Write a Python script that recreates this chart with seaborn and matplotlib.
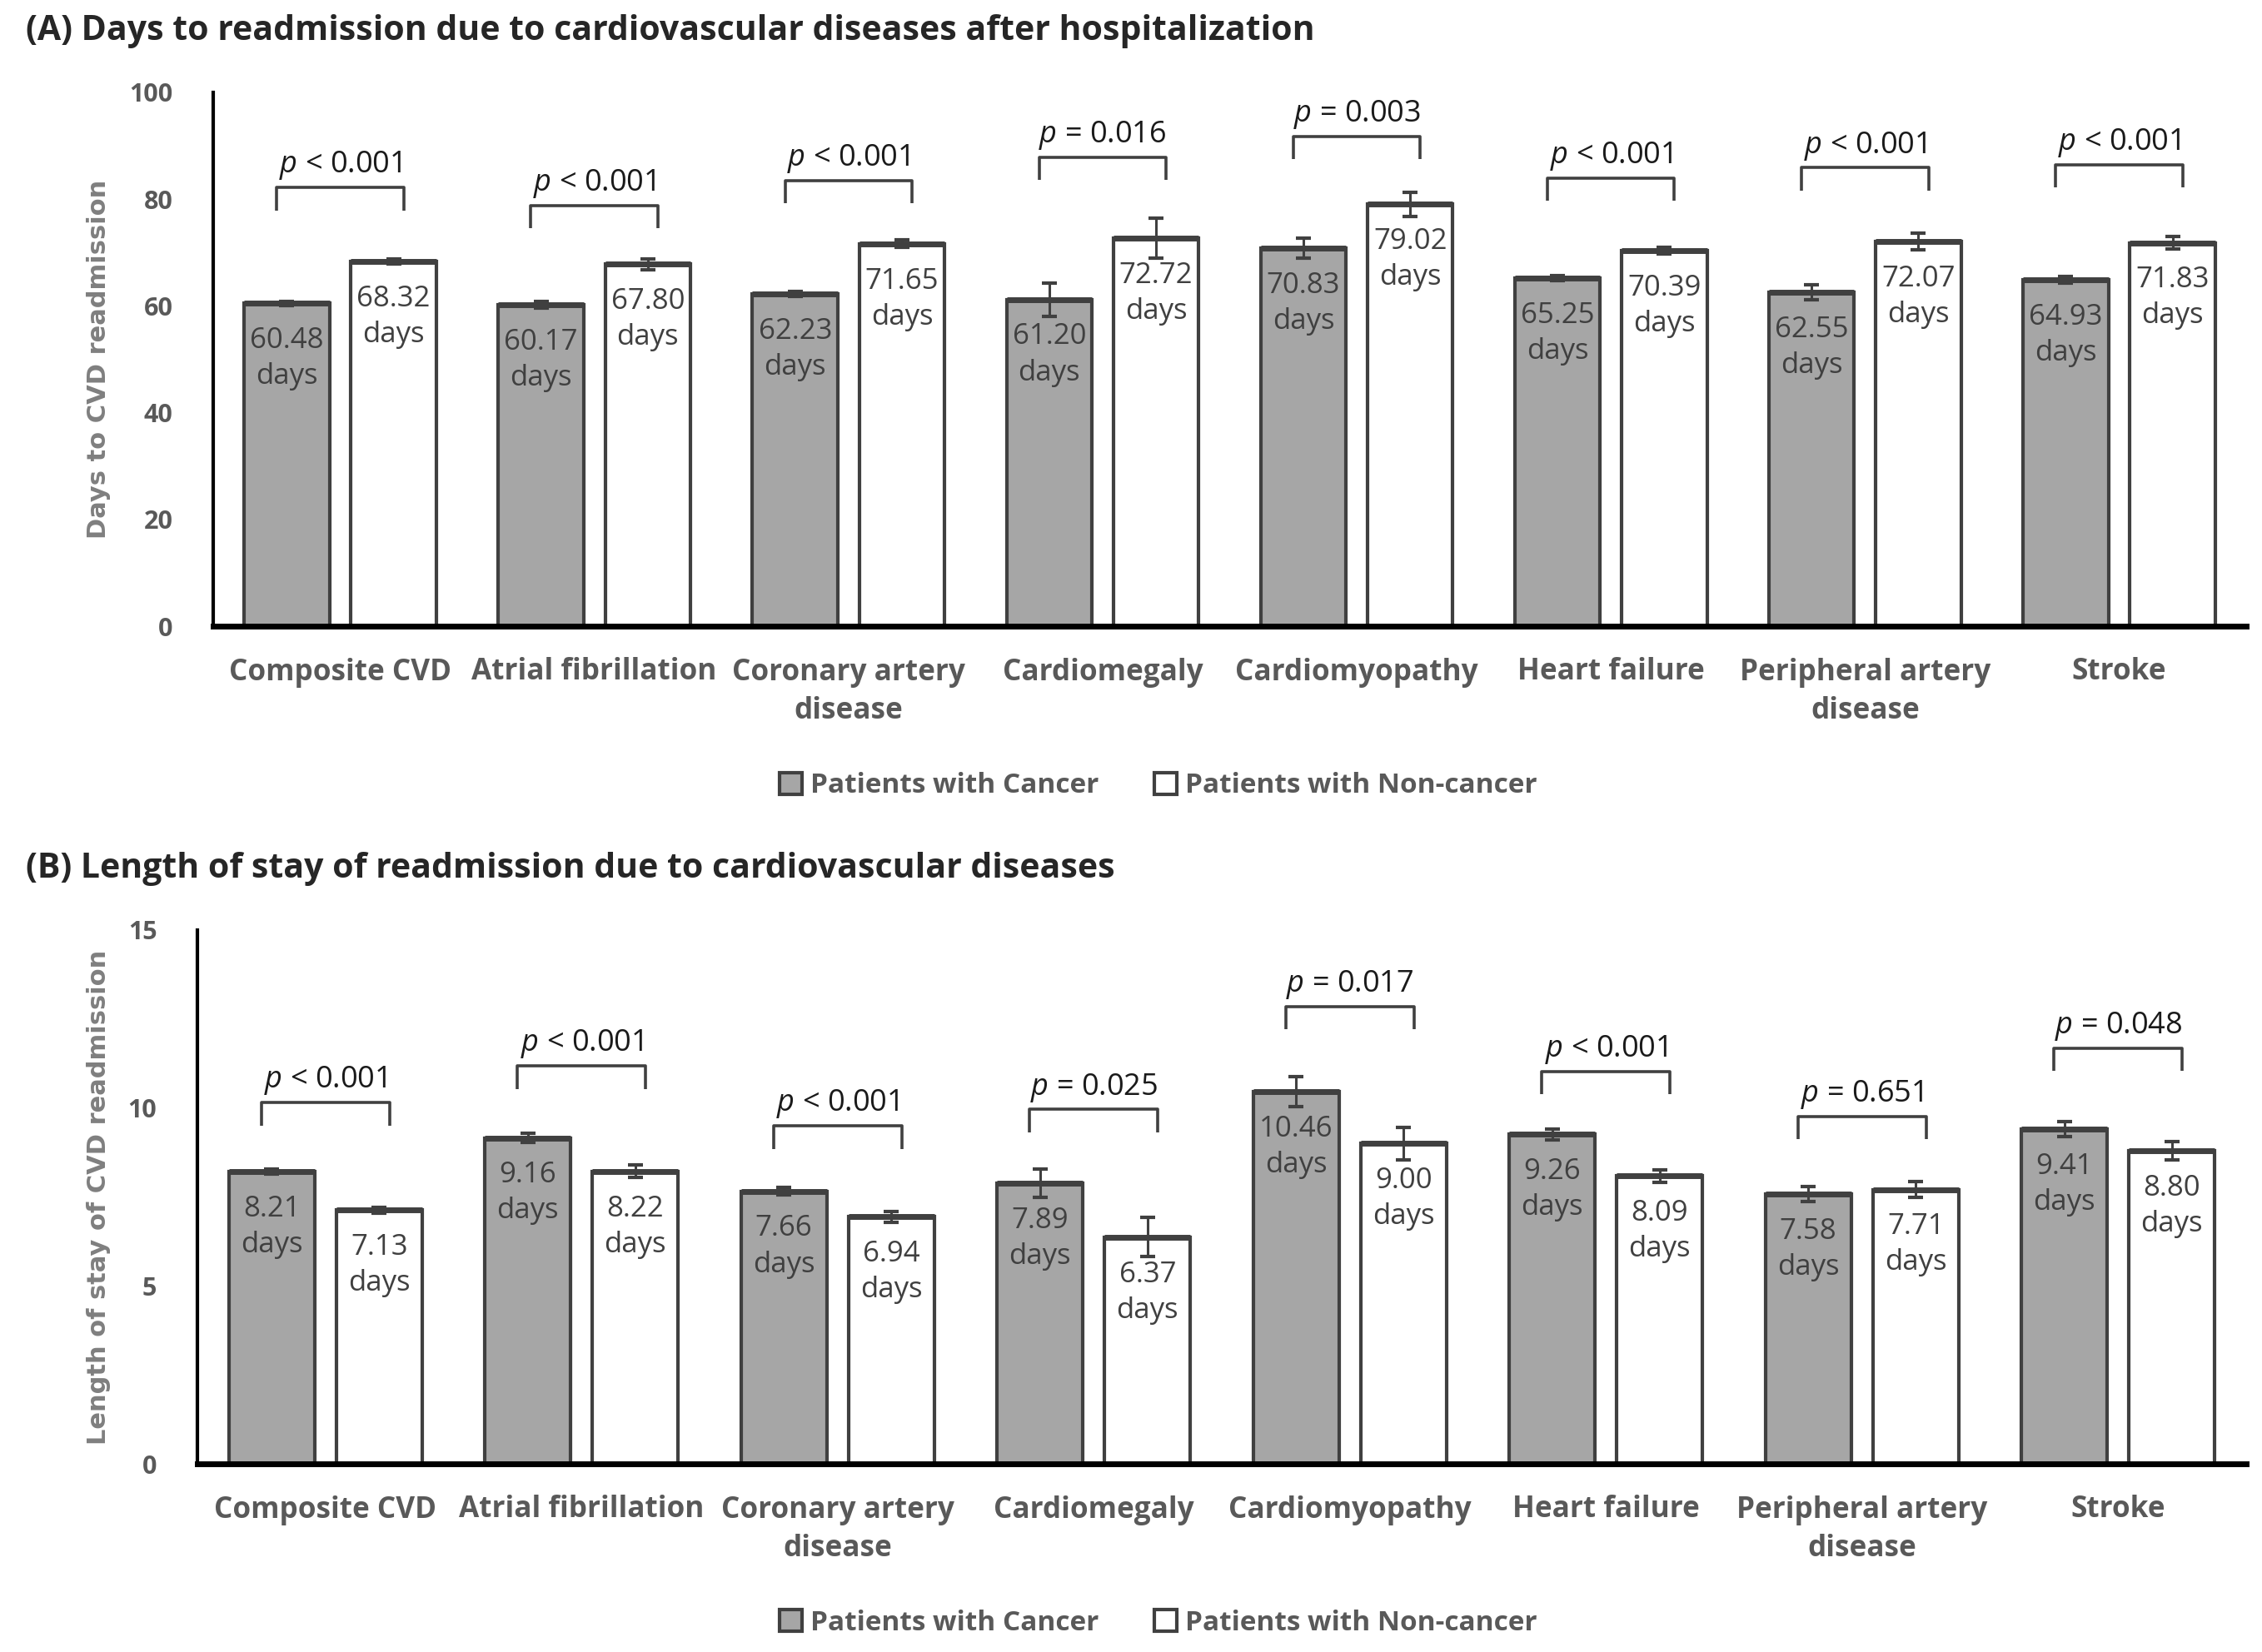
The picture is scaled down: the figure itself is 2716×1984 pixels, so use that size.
import pandas as pd
import seaborn as sns
import matplotlib.pyplot as plt
from matplotlib.patches import Patch


# Data
diseases = ['Composite CVD', 'Atrial fibrillation', 'Coronary artery\ndisease', 'Cardiomegaly',
            'Cardiomyopathy', 'Heart failure', 'Peripheral artery\ndisease', 'Stroke']
groups = ['Patients with Cancer', 'Patients with Non-cancer']

days_cancer = [60.48, 60.17, 62.23, 61.20, 70.83, 65.25, 62.55, 64.93]
days_noncancer = [68.32, 67.80, 71.65, 72.72, 79.02, 70.39, 72.07, 71.83]
days_err_cancer = [0.4, 0.6, 0.5, 3.1, 1.8, 0.5, 1.4, 0.6]
days_err_noncancer = [0.5, 1.0, 0.7, 3.7, 2.3, 0.6, 1.5, 1.2]
days_p = ['< 0.001', '< 0.001', '< 0.001', '= 0.016', '= 0.003', '< 0.001', '< 0.001', '< 0.001']
days_bracket = [82.2, 78.8, 83.5, 87.9, 91.8, 84.0, 85.9, 86.5]

los_cancer = [8.21, 9.16, 7.66, 7.89, 10.46, 9.26, 7.58, 9.41]
los_noncancer = [7.13, 8.22, 6.94, 6.37, 9.00, 8.09, 7.71, 8.80]
los_err_cancer = [0.07, 0.12, 0.10, 0.40, 0.42, 0.15, 0.22, 0.21]
los_err_noncancer = [0.08, 0.17, 0.15, 0.55, 0.45, 0.17, 0.23, 0.25]
los_p = ['< 0.001', '< 0.001', '< 0.001', '= 0.025', '= 0.017', '< 0.001', '= 0.651', '= 0.048']
los_bracket = [10.15, 11.18, 9.50, 9.96, 12.85, 11.03, 9.76, 11.68]

DARK = '#404040'
TICK_GREY = '#595959'
palette = {groups[0]: '#a6a6a6', groups[1]: '#ffffff'}

sns.set_style('white')
plt.rcParams['font.family'] = ['Open Sans', 'DejaVu Sans']
plt.rcParams['mathtext.fontset'] = 'custom'
plt.rcParams['mathtext.it'] = 'Open Sans:italic'
plt.rcParams['mathtext.rm'] = 'Open Sans'


def draw_panel(ax, cancer, noncancer, err_c, err_n, pvals, brackets, ymax, yticks, ylabel, label_x):
    df = pd.DataFrame({
        'disease': diseases * 2,
        'value': cancer + noncancer,
        'group': [groups[0]] * len(diseases) + [groups[1]] * len(diseases),
    })
    sns.barplot(data=df, x='disease', y='value', hue='group', order=diseases, hue_order=groups,
                palette=palette, saturation=1, width=0.84, gap=0.2, edgecolor=DARK, linewidth=3,
                errorbar=None, legend=False, ax=ax)

    bars = sorted(ax.patches, key=lambda p: p.get_x())
    for bar_set, vals, errs in [(bars[0::2], cancer, err_c), (bars[1::2], noncancer, err_n)]:
        xs = [b.get_x() + b.get_width() / 2 for b in bar_set]
        for b, v, x in zip(bar_set, vals, xs):
            ax.hlines(v, b.get_x(), b.get_x() + b.get_width(), color=DARK, lw=5, zorder=3)
            ax.annotate(f'{v:.2f}\ndays', xy=(x, v), xytext=(0, -20), textcoords='offset points',
                        ha='center', va='top', fontsize=25, color=DARK, linespacing=1.35, zorder=5)
        ax.errorbar(xs, vals, yerr=errs, fmt='none', ecolor=DARK, elinewidth=2.2,
                    capsize=6.5, capthick=3, zorder=4)

    # significance brackets
    drop = 0.043 * ymax
    for i, (p, top) in enumerate(zip(pvals, brackets)):
        ax.plot([i - 0.25, i - 0.25, i + 0.25, i + 0.25], [top - drop, top, top, top - drop],
                color=DARK, lw=2.6, solid_capstyle='butt', zorder=4)
        ax.text(i, top + 0.041 * ymax, f'$p$ {p}', ha='center', va='center', fontsize=26, color='#1a1a1a')

    ax.set_xlim(-0.5, 7.5)
    ax.set_ylim(0, ymax)
    ax.set_yticks(yticks)
    ax.set_xlabel('')
    ax.set_ylabel(ylabel, family='DejaVu Sans', fontweight='bold', fontsize=22, color='#7f7f7f')
    ax.yaxis.set_label_coords(label_x, 0.5)
    sns.despine(ax=ax)
    ax.spines['left'].set_linewidth(3)
    ax.spines['left'].set_color('black')
    ax.spines['bottom'].set_linewidth(5)
    ax.spines['bottom'].set_color('black')
    ax.tick_params(axis='x', length=0, pad=27, labelsize=25.3, labelcolor=TICK_GREY)
    ax.tick_params(axis='y', length=0, pad=35, labelsize=22, labelcolor=TICK_GREY)
    for lbl in ax.get_xticklabels() + ax.get_yticklabels():
        lbl.set_fontweight('bold')
    for lbl in ax.get_xticklabels():
        lbl.set_linespacing(1.4)


def add_legend(fig, y):
    handles = [Patch(facecolor=palette[g], edgecolor=DARK, lw=3) for g in groups]
    fig.legend(handles, groups, loc='center', bbox_to_anchor=(1391 / 2716, y), ncol=2, frameon=False,
               prop={'family': 'Open Sans', 'weight': 'bold', 'size': 24}, labelcolor=TICK_GREY,
               handlelength=0.8, handleheight=0.85, handletextpad=0.3, columnspacing=2.0)


fig = plt.figure(figsize=(27.16, 19.84), dpi=100)
ax_a = fig.add_axes([256 / 2716, 1 - 752 / 1984, (2697 - 256) / 2716, 641 / 1984])
ax_b = fig.add_axes([237 / 2716, 1 - 1758 / 1984, (2697 - 237) / 2716, 641 / 1984])

draw_panel(ax_a, days_cancer, days_noncancer, days_err_cancer, days_err_noncancer, days_p, days_bracket,
           100, [0, 20, 40, 60, 80, 100], 'Days to CVD readmission', -0.0504)
draw_panel(ax_b, los_cancer, los_noncancer, los_err_cancer, los_err_noncancer, los_p, los_bracket,
           15, [0, 5, 10, 15], 'Length of stay of CVD readmission', -0.0423)

fig.text(31 / 2716, 1 - 38 / 1984,
         '(A) Days to readmission due to cardiovascular diseases after hospitalization',
         fontsize=29.5, fontweight='bold', va='center', ha='left')
fig.text(31 / 2716, 1 - 1044 / 1984,
         '(B) Length of stay of readmission due to cardiovascular diseases',
         fontsize=29.5, fontweight='bold', va='center', ha='left')

add_legend(fig, 1 - 944 / 1984)
add_legend(fig, 1 - 1949 / 1984)

fig.savefig('out.png', dpi=100, facecolor='white')
